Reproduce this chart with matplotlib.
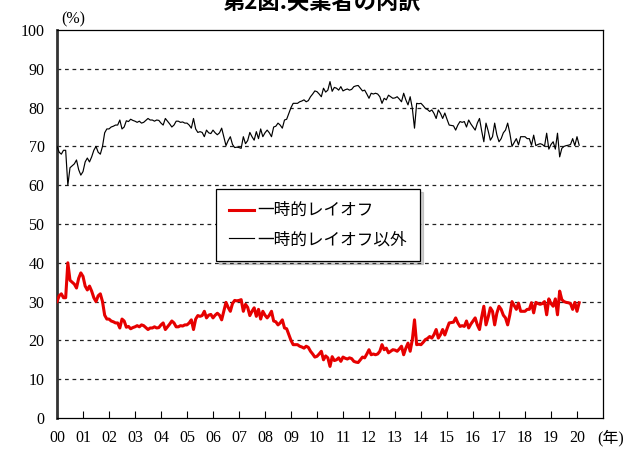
import matplotlib
matplotlib.use("Agg")
import matplotlib.pyplot as plt
import numpy as np

# Monthly shares (%), Jan 2000 - Feb 2020
temp_layoff = [
    30, 31.5, 32, 31, 31, 40, 35.5, 35, 34.5, 33.5, 36, 37.4,          # 2000
    36.5, 34, 33, 34, 32.7, 31, 30, 31.5, 32, 30, 26.5, 25.5,          # 2001
    25.5, 25, 24.8, 24.5, 24.5, 23.2, 25.5, 25, 23.4, 23.6, 23, 23.3,  # 2002
    23.5, 23.8, 23.5, 24, 23.8, 23.3, 22.8, 23.2, 23.2, 23.5, 23.2, 23.3,  # 2003
    24, 24.5, 22.8, 23.5, 24.2, 25, 24.5, 23.5, 23.5, 23.8, 23.7, 24,  # 2004
    24, 24.5, 25.3, 22.8, 25.5, 26.4, 26.2, 26.4, 27.5, 25.8, 26.5, 26.7,  # 2005
    25.8, 26.5, 27, 26.5, 25.3, 27.5, 29.8, 28.5, 27.5, 29.5, 30.3, 30.2,  # 2006
    30.3, 30.5, 27.5, 29.3, 28.5, 26.4, 27.5, 28.4, 26.2, 28, 25.5, 27.5,  # 2007
    26.5, 25.8, 26.5, 27.5, 25, 24.8, 24, 24.5, 25.3, 23.2, 23, 21.5,  # 2008
    20, 18.9, 18.9, 18.9, 18.5, 18.3, 18, 18.5, 18.2, 17.2, 16.5, 15.7,  # 2009
    15.9, 16.5, 17.2, 15, 16, 15.5, 13.3, 15.8, 14.8, 15, 15.5, 14.6,  # 2010
    15.7, 15.4, 15.2, 15.5, 15.3, 14.6, 14.4, 14.3, 15, 15.7, 15.5, 16.5,  # 2011
    17.6, 16.3, 16.5, 16.3, 16.5, 17.2, 18.9, 17.6, 18, 16.8, 17.2, 17.6,  # 2012
    17.5, 17.2, 17.8, 18.5, 16.3, 18, 19.3, 17.2, 20.2, 25.3, 18.9, 19,  # 2013
    18.9, 19.5, 20.2, 20.5, 21, 20.6, 21.5, 22.8, 20.6, 21.5, 22.8, 21.4,  # 2014
    23, 24.5, 24.6, 24.7, 25.8, 24.5, 23.6, 23.8, 23.6, 25, 23.2, 24.2,  # 2015
    25, 25.8, 24, 22.8, 26, 28.8, 24, 26, 28.4, 27.5, 24, 27,          # 2016
    28.8, 28, 26.5, 25.8, 24, 26.6, 30, 29, 28, 29.6, 27.5, 27.5,      # 2017
    27.5, 28, 28, 29.7, 27.1, 29.8, 29.5, 29.3, 29.5, 30, 26.6, 30.7,  # 2018
    29.5, 28.8, 30.7, 26.6, 32.7, 30.5, 30, 29.8, 29.7, 29.5, 28, 29.8,  # 2019
    27.5, 29.7,                                                         # 2020
]

other = [
    70, 68.5, 68, 69, 69, 60, 64.5, 65, 65.5, 66.5, 64, 62.6,
    63.5, 66, 67, 66, 67.3, 69, 70, 68.5, 68, 70, 73.5, 74.5,
    74.5, 75, 75.2, 75.5, 75.5, 76.8, 74.5, 75, 76.6, 76.4, 77, 76.7,
    76.5, 76.2, 76.5, 76, 76.2, 76.7, 77.2, 76.8, 76.8, 76.5, 76.8, 76.7,
    76, 75.5, 77.2, 76.5, 75.8, 75, 75.5, 76.5, 76.5, 76.2, 76.3, 76,
    76, 75.5, 74.7, 77.2, 74.5, 73.6, 73.8, 73.6, 72.5, 74.2, 73.5, 73.3,
    74.2, 73.5, 73, 73.5, 74.7, 72.5, 70.2, 71.5, 72.5, 70.5, 69.7, 69.8,
    69.7, 69.5, 72.5, 70.7, 71.5, 73.6, 72.5, 71.6, 73.8, 72, 74.5, 72.5,
    73.5, 74.2, 73.5, 72.5, 75, 75.2, 76, 75.5, 74.7, 76.8, 77, 78.5,
    80, 81.1, 81.1, 81.1, 81.5, 81.7, 82, 81.5, 81.8, 82.8, 83.5, 84.3,
    84.1, 83.5, 82.8, 85, 84, 84.5, 86.7, 84.2, 85.2, 85, 84.5, 85.4,
    84.3, 84.6, 84.8, 84.5, 84.7, 85.4, 85.6, 85.7, 85, 84.3, 84.5, 83.5,
    82.4, 83.7, 83.5, 83.7, 83.5, 82.8, 81.1, 82.4, 82, 83.2, 82.8, 82.4,
    82.5, 82.8, 82.2, 81.5, 83.7, 82, 80.7, 82.8, 79.8, 74.7, 81.1, 81,
    81.1, 80.5, 79.8, 79.5, 79, 79.4, 78.5, 77.2, 79.4, 78.5, 77.2, 78.6,
    77, 75.5, 75.4, 75.3, 74.2, 75.5, 76.4, 76.2, 76.4, 75, 76.8, 75.8,
    75, 74.2, 76, 77.2, 74, 71.2, 76, 74, 71.6, 72.5, 76, 73,
    71.2, 72, 73.5, 74.2, 76, 73.4, 70, 71, 72, 70.4, 72.5, 72.5,
    72.5, 72, 72, 70.3, 72.9, 70.2, 70.5, 70.7, 70.5, 70, 73.4, 69.3,
    70.5, 71.2, 69.3, 73.4, 67.3, 69.5, 70, 70.2, 70.3, 70.5, 72, 70.2,
    72.5, 70.3,
]

year_labels = [f"{y:02d}" for y in range(0, 21)]
y_ticks = list(range(0, 101, 10))

series_labels = ["一時的レイオフ", "一時的レイオフ以外"]

serif = ["Liberation Serif", "Noto Sans CJK JP"]
jp = ["Noto Sans CJK JP", "DejaVu Sans"]

fig = plt.figure(figsize=(6.34, 4.49), dpi=100)
ax = fig.add_axes([57 / 634, 1 - 418 / 449, 546 / 634, 388 / 449])

x = np.arange(len(temp_layoff)) / 12.0
ax.plot(x, temp_layoff, color="#e60000", lw=2.2, label=series_labels[0], zorder=3)
ax.plot(x, other, color="black", lw=0.85, label=series_labels[1], zorder=3)

ax.set_xlim(0, 21)
ax.set_ylim(0, 100)
ax.set_yticks(y_ticks)
ax.set_yticklabels([str(v) for v in y_ticks], fontfamily=serif, fontsize=11.5)
ax.set_xticks(range(0, 21))
ax.set_xticklabels(year_labels, fontfamily=serif, fontsize=11.5)
ax.tick_params(axis="x", direction="in", length=5, width=0.8, pad=9)
ax.tick_params(axis="y", length=0, pad=9)

for v in y_ticks[1:-1]:
    ax.axhline(v, color="#222222", lw=0.9, ls=(0, (3, 3)), zorder=1)

ax.spines["left"].set_linewidth(2.0)
ax.spines["left"].set_color("#333333")
for s in ["right", "bottom", "top"]:
    ax.spines[s].set_linewidth(0.9)
    ax.spines[s].set_color("black")

fig.text(61 / 634, 1 - 19 / 449, "(%)", fontfamily=serif, fontsize=11.5,
         ha="left", va="center")
fig.text(597 / 634, 1 - 438 / 449, "(年)", fontfamily=serif, fontsize=11.5,
         ha="left", va="center")
fig.text(322 / 634, 1 - 2 / 449, "第2図:失業者の内訳", fontfamily=jp,
         fontsize=16, fontweight="bold", ha="center", va="center")

leg = ax.legend(loc="upper left", bbox_to_anchor=((216 - 57) / 546, (418 - 189) / 388),
                borderaxespad=0, frameon=True, fancybox=False,
                shadow={"alpha": 0.25, "ox": 2, "oy": -2},
                prop={"family": jp, "size": 12}, handlelength=1.45,
                handletextpad=0.2, borderpad=0.8, labelspacing=0.7)
leg.get_frame().set_edgecolor("black")
leg.get_frame().set_linewidth(0.9)

fig.savefig("out.png", dpi=100)
